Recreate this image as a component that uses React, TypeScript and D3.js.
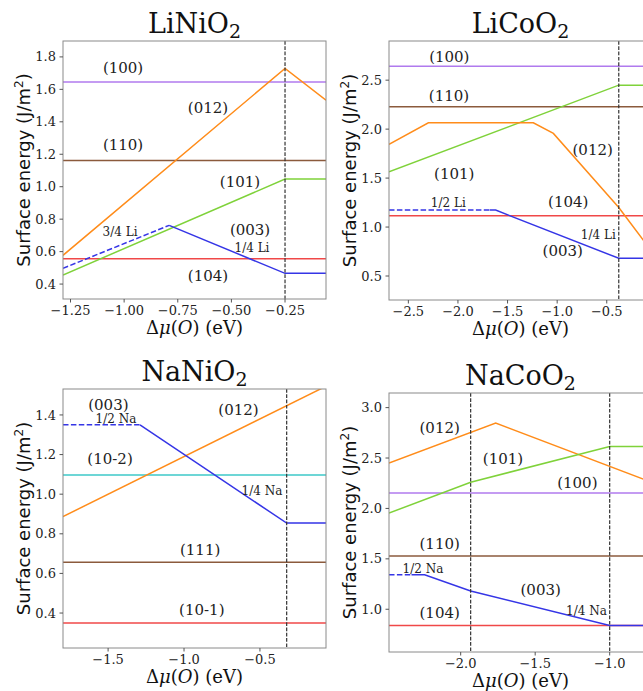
import React from "react";
import * as d3 from "d3";

type Pt = [number, number];
type Series = { facet: string; pts: Pt[] };
type Note = { text: string; x: number; y: number; small?: boolean };

// colour of each facet
const facetColor: Record<string, string> = {
  "(100)": "#b07aee",
  "(110)": "#8b5a3c",
  "(111)": "#8b5a3c",
  "(104)": "#f04848",
  "(10-1)": "#f04848",
  "(012)": "#ff8c1a",
  "(101)": "#7fd23a",
  "(003)": "#3535e6",
  "(10-2)": "#3cc8c8",
};

// ---- LiNiO2 ----
const liNiO2XDomain: Pt = [-1.285, -0.059];
const liNiO2YDomain: Pt = [0.308, 1.898];
const liNiO2XTicks = [-1.25, -1.0, -0.75, -0.5, -0.25];
const liNiO2YTicks = [0.4, 0.6, 0.8, 1.0, 1.2, 1.4, 1.6, 1.8];
const liNiO2Lines: Series[] = [
  { facet: "(100)", pts: [[-1.3, 1.645], [0, 1.645]] },
  { facet: "(110)", pts: [[-1.3, 1.162], [0, 1.162]] },
  { facet: "(104)", pts: [[-1.3, 0.556], [0, 0.556]] },
  { facet: "(012)", pts: [[-1.285, 0.577], [-0.25, 1.729], [-0.059, 1.533]] },
  { facet: "(101)", pts: [[-1.285, 0.456], [-0.25, 1.047], [0, 1.047]] },
  { facet: "(003)", pts: [[-0.79, 0.762], [-0.25, 0.466], [0, 0.466]] },
];
const liNiO2Dashed: Series[] = [{ facet: "(003)", pts: [[-1.285, 0.497], [-0.79, 0.762]] }];
const liNiO2VLines = [-0.25];
const liNiO2Notes: Note[] = [
  { text: "(100)", x: -1.005, y: 1.732 },
  { text: "(012)", x: -0.609, y: 1.485 },
  { text: "(110)", x: -1.005, y: 1.257 },
  { text: "(101)", x: -0.46, y: 1.029 },
  { text: "3/4 Li", x: -1.019, y: 0.721, small: true },
  { text: "(003)", x: -0.413, y: 0.733 },
  { text: "1/4 Li", x: -0.404, y: 0.622, small: true },
  { text: "(104)", x: -0.609, y: 0.45 },
];

// ---- LiCoO2 ----
const liCoO2XDomain: Pt = [-2.695, -0.044];
const liCoO2YDomain: Pt = [0.255, 2.9];
const liCoO2XTicks = [-2.5, -2.0, -1.5, -1.0, -0.5];
const liCoO2YTicks = [0.5, 1.0, 1.5, 2.0, 2.5];
const liCoO2Lines: Series[] = [
  { facet: "(100)", pts: [[-2.8, 2.643], [0, 2.643]] },
  { facet: "(110)", pts: [[-2.8, 2.228], [0, 2.228]] },
  { facet: "(104)", pts: [[-2.8, 1.115], [0, 1.115]] },
  { facet: "(101)", pts: [[-2.695, 1.564], [-0.379, 2.449], [0, 2.449]] },
  {
    facet: "(012)",
    pts: [[-2.695, 1.844], [-2.298, 2.064], [-1.24, 2.064], [-1.038, 1.956], [-0.379, 1.2], [-0.134, 0.87], [-0.044, 0.75]],
  },
  { facet: "(003)", pts: [[-1.68, 1.173], [-1.62, 1.173], [-0.379, 0.681], [0, 0.681]] },
];
const liCoO2Dashed: Series[] = [{ facet: "(003)", pts: [[-2.695, 1.173], [-1.68, 1.173]] }];
const liCoO2VLines = [-0.379];
const liCoO2Notes: Note[] = [
  { text: "(100)", x: -2.087, y: 2.738 },
  { text: "(110)", x: -2.09, y: 2.347 },
  { text: "(012)", x: -0.642, y: 1.796 },
  { text: "(101)", x: -2.037, y: 1.548 },
  { text: "1/2 Li", x: -2.097, y: 1.248, small: true },
  { text: "(104)", x: -0.888, y: 1.258 },
  { text: "1/4 Li", x: -0.585, y: 0.918, small: true },
  { text: "(003)", x: -0.944, y: 0.758 },
];

// ---- NaNiO2 ----
const naNiO2XDomain: Pt = [-1.797, -0.065];
const naNiO2YDomain: Pt = [0.2235, 1.531];
const naNiO2XTicks = [-1.5, -1.0, -0.5];
const naNiO2YTicks = [0.4, 0.6, 0.8, 1.0, 1.2, 1.4];
const naNiO2Lines: Series[] = [
  { facet: "(10-2)", pts: [[-1.9, 1.097], [0, 1.097]] },
  { facet: "(111)", pts: [[-1.9, 0.657], [0, 0.657]] },
  { facet: "(10-1)", pts: [[-1.9, 0.35], [0, 0.35]] },
  { facet: "(012)", pts: [[-1.797, 0.887], [-0.065, 1.545]] },
  { facet: "(003)", pts: [[-1.29, 1.35], [-0.324, 0.854], [0, 0.854]] },
];
const naNiO2Dashed: Series[] = [{ facet: "(003)", pts: [[-1.797, 1.35], [-1.29, 1.35]] }];
const naNiO2VLines = [-0.324];
const naNiO2Notes: Note[] = [
  { text: "(003)", x: -1.498, y: 1.454 },
  { text: "1/2 Na", x: -1.448, y: 1.38, small: true },
  { text: "(012)", x: -0.641, y: 1.425 },
  { text: "(10-2)", x: -1.487, y: 1.182 },
  { text: "1/4 Na", x: -0.487, y: 1.018, small: true },
  { text: "(111)", x: -0.894, y: 0.719 },
  { text: "(10-1)", x: -0.883, y: 0.417 },
];

// ---- NaCoO2 ----
const naCoO2XDomain: Pt = [-2.481, -0.716];
const naCoO2YDomain: Pt = [0.576, 3.145];
const naCoO2XTicks = [-2.0, -1.5, -1.0];
const naCoO2YTicks = [1.0, 1.5, 2.0, 2.5, 3.0];
const naCoO2Lines: Series[] = [
  { facet: "(100)", pts: [[-2.6, 2.153], [0, 2.153]] },
  { facet: "(110)", pts: [[-2.6, 1.528], [0, 1.528]] },
  { facet: "(104)", pts: [[-2.6, 0.84], [0, 0.84]] },
  { facet: "(012)", pts: [[-2.481, 2.45], [-1.765, 2.847], [-0.716, 2.258]] },
  { facet: "(101)", pts: [[-2.481, 1.954], [-1.933, 2.26], [-1.0, 2.614], [0, 2.614]] },
  { facet: "(003)", pts: [[-2.33, 1.343], [-2.242, 1.343], [-1.933, 1.181], [-1.0, 0.84], [0, 0.84]] },
];
const naCoO2Dashed: Series[] = [{ facet: "(003)", pts: [[-2.481, 1.343], [-2.33, 1.343]] }];
const naCoO2VLines = [-1.933, -1.0];
const naCoO2Notes: Note[] = [
  { text: "(012)", x: -2.141, y: 2.802 },
  { text: "(101)", x: -1.716, y: 2.495 },
  { text: "(100)", x: -1.217, y: 2.253 },
  { text: "(110)", x: -2.141, y: 1.651 },
  { text: "1/2 Na", x: -2.253, y: 1.403, small: true },
  { text: "(003)", x: -1.463, y: 1.195 },
  { text: "1/4 Na", x: -1.156, y: 0.983, small: true },
  { text: "(104)", x: -2.141, y: 0.963 },
];

const panels = [
  { id: "p1", title: ["LiNiO", "2"], box: [63, 41, 263, 258], xDomain: liNiO2XDomain, yDomain: liNiO2YDomain, xTicks: liNiO2XTicks, yTicks: liNiO2YTicks, xDec: 2, lines: liNiO2Lines, dashed: liNiO2Dashed, vlines: liNiO2VLines, notes: liNiO2Notes },
  { id: "p2", title: ["LiCoO", "2"], box: [389, 41, 263, 259], xDomain: liCoO2XDomain, yDomain: liCoO2YDomain, xTicks: liCoO2XTicks, yTicks: liCoO2YTicks, xDec: 1, lines: liCoO2Lines, dashed: liCoO2Dashed, vlines: liCoO2VLines, notes: liCoO2Notes },
  { id: "p3", title: ["NaNiO", "2"], box: [63, 389, 263, 259], xDomain: naNiO2XDomain, yDomain: naNiO2YDomain, xTicks: naNiO2XTicks, yTicks: naNiO2YTicks, xDec: 1, lines: naNiO2Lines, dashed: naNiO2Dashed, vlines: naNiO2VLines, notes: naNiO2Notes },
  { id: "p4", title: ["NaCoO", "2"], box: [389, 393, 263, 259], xDomain: naCoO2XDomain, yDomain: naCoO2YDomain, xTicks: naCoO2XTicks, yTicks: naCoO2YTicks, xDec: 1, lines: naCoO2Lines, dashed: naCoO2Dashed, vlines: naCoO2VLines, notes: naCoO2Notes },
];

const serif = "DejaVu Serif, serif";
const sans = "DejaVu Sans, sans-serif";

function Panel({ p }: { p: (typeof panels)[number] }) {
  const [left, top, w, h] = p.box;
  const x = d3.scaleLinear().domain(p.xDomain).range([0, w]);
  const y = d3.scaleLinear().domain(p.yDomain).range([h, 0]);
  const line = d3.line<Pt>().x((d) => x(d[0])).y((d) => y(d[1]));
  const fx = d3.format(`.${p.xDec}f`);
  const fy = d3.format(".1f");
  return (
    <g transform={`translate(${left},${top})`}>
      <defs>
        <clipPath id={`clip-${p.id}`}>
          <rect x={0} y={0} width={w} height={h} />
        </clipPath>
      </defs>
      <g clipPath={`url(#clip-${p.id})`}>
        {p.lines.map((s, i) => (
          <path key={i} d={line(s.pts) || ""} fill="none" stroke={facetColor[s.facet]} strokeWidth={1.5} />
        ))}
        {p.dashed.map((s, i) => (
          <path key={i} d={line(s.pts) || ""} fill="none" stroke={facetColor[s.facet]} strokeWidth={1.5} strokeDasharray="5.5,2.4" />
        ))}
        {p.vlines.map((v, i) => (
          <line key={i} x1={x(v)} x2={x(v)} y1={0} y2={h} stroke="#333" strokeWidth={1.2} strokeDasharray="3.7,1.6" />
        ))}
      </g>
      {p.notes.map((n, i) => (
        <text key={i} x={x(n.x)} y={y(n.y)} dy="0.36em" textAnchor="middle" fontFamily={serif} fontSize={n.small ? 12 : 15} fill="#222">
          {n.text}
        </text>
      ))}
      <rect x={0} y={0} width={w} height={h} fill="none" stroke="#8a8a8a" strokeWidth={1} />
      {p.xTicks.map((t) => (
        <g key={t} transform={`translate(${x(t)},${h})`}>
          <line y2={3.5} stroke="#555" />
          <text y={16} textAnchor="middle" fontFamily={serif} fontSize={13} fill="#222">
            {fx(t)}
          </text>
        </g>
      ))}
      {p.yTicks.map((t) => (
        <g key={t} transform={`translate(0,${y(t)})`}>
          <line x2={-3.5} stroke="#555" />
          <text x={-7} dy="0.35em" textAnchor="end" fontFamily={serif} fontSize={13} fill="#222">
            {fy(t)}
          </text>
        </g>
      ))}
      <text x={w / 2} y={-8} textAnchor="middle" fontFamily={serif} fontSize={27} fill="#111">
        {p.title[0]}
        <tspan fontSize={19} dy={5}>{p.title[1]}</tspan>
      </text>
      <text transform={`translate(${-33},${h / 2}) rotate(-90)`} textAnchor="middle" fontFamily={sans} fontSize={18} fill="#111">
        Surface energy (J/m
        <tspan fontSize={12} dy={-7}>2</tspan>
        <tspan dy={7}>)</tspan>
      </text>
      <text x={w / 2} y={h + 35} textAnchor="middle" fontFamily={serif} fontSize={18} fill="#111">
        Δ<tspan fontStyle="italic">μ</tspan>(<tspan fontStyle="italic">O</tspan>) (eV)
      </text>
    </g>
  );
}

export default function App() {
  return (
    <svg width={643} height={691} style={{ position: "absolute", left: 0, top: 0, background: "#fff" }}>
      <rect width={643} height={691} fill="#fff" />
      {panels.map((p) => (
        <Panel key={p.id} p={p} />
      ))}
    </svg>
  );
}
